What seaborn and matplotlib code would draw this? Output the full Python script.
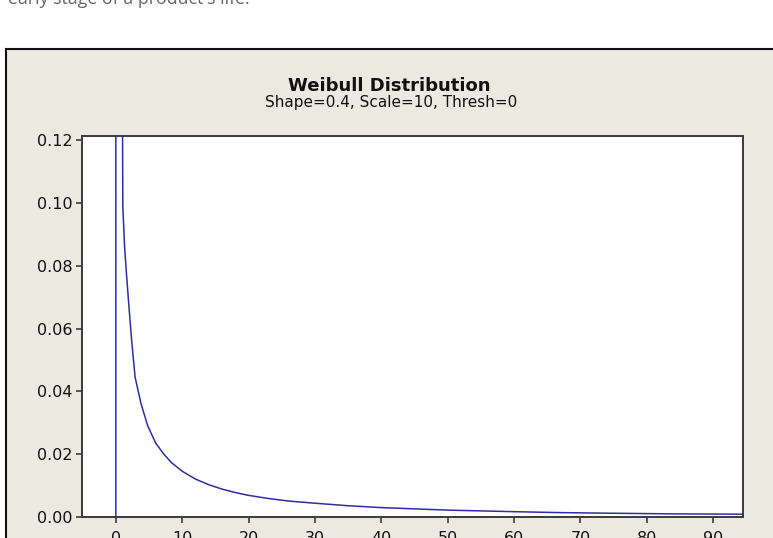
import numpy as np
import pandas as pd
import matplotlib
matplotlib.use("Agg")
import matplotlib.pyplot as plt
from matplotlib.patches import Rectangle
import seaborn as sns

# values (Weibull pdf, shape 0.4, scale 10)
x_vals = [0, 0, 0.98, 1.05, 1.32, 1.58, 1.9, 2.35, 2.9, 3.8, 4.8, 6.0, 7.2, 8.4,
          10, 12, 14, 16, 18, 20, 23, 26, 30, 35, 40, 45, 50, 56, 60, 67, 75, 84, 94.5]
y_vals = [0, 0.14, 0.14, 0.099, 0.086, 0.078, 0.069, 0.057, 0.0445, 0.036, 0.029,
          0.0235, 0.020, 0.0172, 0.0145, 0.0120, 0.0102, 0.0088, 0.0077, 0.0068,
          0.0058, 0.0050, 0.0043, 0.0035, 0.0029, 0.0025, 0.0021, 0.0018, 0.0016,
          0.0013, 0.0011, 0.0009, 0.0008]
x_ticks = [0, 10, 20, 30, 40, 50, 60, 70, 80, 90]
y_ticks = [0.00, 0.02, 0.04, 0.06, 0.08, 0.10, 0.12]

title = "Weibull Distribution"
subtitle = "Shape=0.4, Scale=10, Thresh=0"
caption = "early stage of a product's life."

df = pd.DataFrame({"x": x_vals, "density": y_vals})

sns.set_theme(style="ticks")
plt.rcParams["font.family"] = ["DejaVu Sans"]

W, H = 773, 538
fig = plt.figure(figsize=(W / 100, H / 100), dpi=100)
fig.patch.set_facecolor("white")

# grey chart panel with black frame (cut at right and bottom)
panel = Rectangle((6 / W, -0.05), 1.1, 1 - 49 / H + 0.05, transform=fig.transFigure,
                  facecolor="#ece9e0", edgecolor="#111111", linewidth=1.5, zorder=0)
fig.add_artist(panel)

# cut-off sentence from the page above the chart
fig.text(8 / W, 1 - 4 / H, caption, fontsize=12.8, color="#666666",
         family="Open Sans", ha="left", va="baseline")

left, right, top, bottom = 82, 743, 136, 516.7
ax = fig.add_axes([left / W, 1 - bottom / H, (right - left) / W, (bottom - top) / H])
ax.set_facecolor("white")

sns.lineplot(data=df, x="x", y="density", sort=False, estimator=None,
             color="#2e2ea0", linewidth=1.1, ax=ax)

ax.set_xlim(-5.1, 94.5)
ax.set_ylim(0, 0.1214)
ax.set_xticks(x_ticks)
ax.set_yticks(y_ticks)
ax.set_yticklabels([f"{v:.2f}" for v in y_ticks])
ax.set_xlabel("")
ax.set_ylabel("")
for s in ax.spines.values():
    s.set_visible(True)
    s.set_color("#3a3a3a")
    s.set_linewidth(1.4)
ax.tick_params(axis="both", direction="out", length=4, width=1.2, color="#3a3a3a",
               labelsize=11.5, labelcolor="#111111")
ax.tick_params(axis="y", pad=3)
ax.tick_params(axis="x", pad=6)

fig.text(389 / W, 1 - 86 / H, title, fontsize=13, fontweight="bold",
         color="#111111", ha="center", va="center")
fig.text(391 / W, 1 - 102 / H, subtitle, fontsize=11, color="#111111",
         ha="center", va="center")

fig.savefig("out.png", dpi=100)
